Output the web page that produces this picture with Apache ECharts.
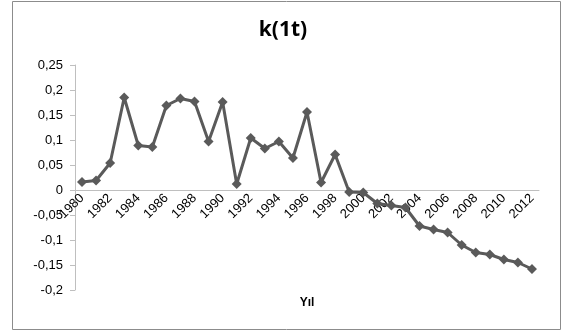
<!DOCTYPE html>
<html><head><meta charset="utf-8">
<script src="https://cdn.jsdelivr.net/npm/echarts@6/dist/echarts.min.js"></script>
<style>html,body{margin:0;padding:0;background:#fff}#c{width:566px;height:335px}</style>
</head><body><div id="c"></div>
<script>
const years = ['1980','1981','1982','1983','1984','1985','1986','1987','1988','1989','1990','1991','1992','1993','1994','1995','1996','1997','1998','1999','2000','2001','2002','2003','2004','2005','2006','2007','2008','2009','2010','2011','2012'];
const values = [0.016,0.019,0.054,0.185,0.089,0.086,0.169,0.183,0.177,0.097,0.176,0.012,0.104,0.083,0.097,0.064,0.156,0.015,0.071,-0.004,-0.005,-0.027,-0.031,-0.035,-0.072,-0.079,-0.085,-0.110,-0.125,-0.129,-0.139,-0.145,-0.158];
const yTicks = {min:-0.2, max:0.25, interval:0.05};
const chart = echarts.init(document.getElementById('c'));
const fnt = '"Liberation Sans", sans-serif';
chart.setOption({
  animation:false,
  title:{text:'k(1t)',left:'center',top:15,textStyle:{fontFamily:'"Open Sans", sans-serif',fontSize:21,fontWeight:'bold',color:'#000'}},
  graphic:[{type:'rect',shape:{x:12.5,y:1.5,width:548,height:328},style:{fill:null,stroke:'#8c8c8c',lineWidth:1},silent:true}],
  grid:{left:75,right:27,top:65,bottom:45,containLabel:false,outerBoundsMode:'none'},
  xAxis:{type:'category',data:years,boundaryGap:true,offset:-100,
    axisLine:{onZero:false,lineStyle:{color:'#bfbfbf',width:1}},
    axisTick:{show:false},
    axisLabel:{interval:1,rotate:45,color:'#000',fontFamily:fnt,fontSize:13,margin:6},
    name:'Yıl',nameLocation:'middle',nameGap:107,nameTextStyle:{color:'#000',fontFamily:fnt,fontSize:12,fontWeight:'bold'}},
  yAxis:{type:'value',min:yTicks.min,max:yTicks.max,interval:yTicks.interval,
    splitLine:{show:false},
    axisLine:{show:true,lineStyle:{color:'#bfbfbf'}},
    axisTick:{show:true,length:5,lineStyle:{color:'#bfbfbf'}},
    axisLabel:{color:'#000',fontFamily:fnt,fontSize:13,margin:12,
      formatter:v=>String(Math.round(v*100)/100).replace('.',',')}},
  series:[{type:'line',data:values,symbol:'diamond',symbolSize:10,showAllSymbol:true,
    lineStyle:{color:'#5a5a5a',width:3},itemStyle:{color:'#5a5a5a'}}]
});
</script></body></html>
